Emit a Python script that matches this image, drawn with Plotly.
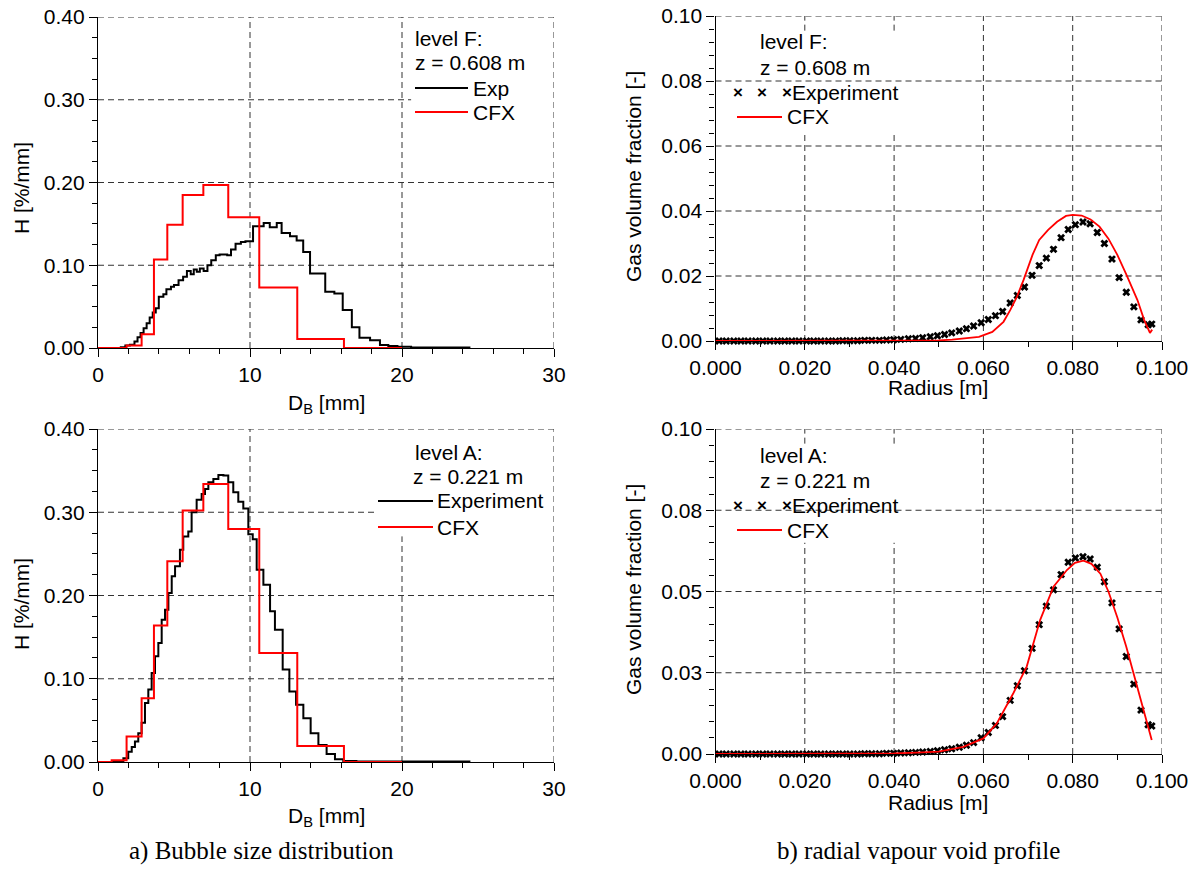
import plotly.graph_objects as go

# ---------------- data ----------------
# Bubble size distribution, level F (z = 0.608 m)
exp_f_edges = [0, 1.5, 1.8, 2.1, 2.4, 2.6, 2.8, 3.0, 3.2, 3.4,
               3.6, 3.8, 4.0, 4.3, 4.5, 4.8, 5.0, 5.3, 5.6, 5.85,
               6.1, 6.3, 6.5, 6.7, 6.95, 7.2, 7.45, 7.75, 8.0, 8.5,
               8.75, 9.05, 9.4, 9.7, 10.2, 10.9, 11.3, 11.76, 12.08, 12.63,
               13.07, 13.5, 13.95, 14.95, 15.55, 16.1, 16.7, 17.2, 17.9, 18.55,
               19.1, 19.7, 20.6, 24.5]
exp_f_h = [0, 0.001, 0.003, 0.004, 0.008, 0.013, 0.018, 0.024, 0.030, 0.037,
           0.043, 0.048, 0.062, 0.065, 0.071, 0.074, 0.076, 0.082, 0.086, 0.093,
           0.089, 0.095, 0.092, 0.096, 0.093, 0.100, 0.106, 0.112, 0.113, 0.112,
           0.119, 0.126, 0.128, 0.129, 0.147, 0.151, 0.146, 0.151, 0.139, 0.135,
           0.130, 0.116, 0.090, 0.068, 0.066, 0.046, 0.025, 0.0125, 0.0095, 0.0036,
           0.0024, 0.0016, 0.0005]
cfx_f_edges = [0, 1.88, 2.87, 3.68, 4.56, 5.57, 6.93, 8.57, 10.61, 13.11, 16.18, 20.0]
cfx_f_h = [0, 0.003, 0.0165, 0.107, 0.149, 0.185, 0.197, 0.158, 0.073, 0.011, 0.0]

# Bubble size distribution, level A (z = 0.221 m)
exp_a_edges = [0, 1.67, 1.99, 2.22, 2.43, 2.65, 2.87, 3.09, 3.31, 3.53,
               3.75, 3.97, 4.19, 4.41, 4.63, 4.85, 5.07, 5.39, 5.61, 5.94,
               6.16, 6.49, 6.82, 7.04, 7.26, 7.59, 7.92, 8.25, 8.57, 8.90,
               9.23, 9.56, 9.89, 10.18, 10.44, 10.88, 11.32, 11.64, 12.15, 12.59,
               13.03, 13.51, 13.99, 14.5, 15.04, 15.59, 16.14, 17.0, 24.5]
exp_a_h = [0, 0.0044, 0.0124, 0.018, 0.0245, 0.0345, 0.047, 0.071, 0.087, 0.107,
           0.127, 0.143, 0.171, 0.183, 0.203, 0.223, 0.235, 0.255, 0.271, 0.277,
           0.300, 0.315, 0.322, 0.328, 0.336, 0.340, 0.3446, 0.344, 0.336, 0.324,
           0.3125, 0.3045, 0.2735, 0.2675, 0.231, 0.213, 0.181, 0.159, 0.111, 0.0847,
           0.0687, 0.0526, 0.0345, 0.0205, 0.0096, 0.0032, 0.0012, 0.0005]
cfx_a_edges = [0, 0.9, 1.88, 2.87, 3.68, 4.56, 5.57, 6.93, 8.57, 10.61, 13.11, 16.18, 20.0]
cfx_a_h = [0, 0.002, 0.0305, 0.0767, 0.164, 0.241, 0.302, 0.334, 0.280, 0.131, 0.0193, 0.0]

# Radial gas volume fraction, measured radii [m]
r_exp = [0.0008, 0.0024, 0.0041, 0.0057, 0.0073, 0.0090, 0.0106, 0.0122, 0.0139, 0.0155,
         0.0171, 0.0187, 0.0204, 0.0220, 0.0236, 0.0253, 0.0269, 0.0285, 0.0301, 0.0318,
         0.0334, 0.0350, 0.0367, 0.0383, 0.0399, 0.0415, 0.0432, 0.0448, 0.0464, 0.0481,
         0.0497, 0.0513, 0.0529, 0.0546, 0.0562, 0.0578, 0.0595, 0.0611, 0.0627, 0.0643,
         0.0660, 0.0676, 0.0692, 0.0709, 0.0725, 0.0741, 0.0757, 0.0774, 0.0790, 0.0806,
         0.0823, 0.0839, 0.0855, 0.0871, 0.0888, 0.0904, 0.0920, 0.0937, 0.0953, 0.0969,
         0.0977]
void_exp_f = [0.0000, 0.0000, 0.0000, 0.0000, 0.0000, 0.0000, 0.0000, 0.0000, 0.0000, 0.0000,
              0.0000, 0.0000, 0.0000, 0.0000, 0.0000, 0.0000, 0.0000, 0.0001, 0.0001, 0.0001,
              0.0002, 0.0002, 0.0002, 0.0003, 0.0004, 0.0005, 0.0007, 0.0008, 0.0010, 0.0013,
              0.0016, 0.0020, 0.0025, 0.0031, 0.0038, 0.0046, 0.0056, 0.0066, 0.0078, 0.0091,
              0.0117, 0.0140, 0.0166, 0.0202, 0.0232, 0.0255, 0.0282, 0.0318, 0.0343, 0.0358,
              0.0366, 0.0361, 0.0334, 0.0300, 0.0252, 0.0195, 0.0150, 0.0105, 0.0065, 0.0050,
              0.0052]
void_exp_a = [0.0000, 0.0000, 0.0000, 0.0000, 0.0000, 0.0000, 0.0000, 0.0000, 0.0000, 0.0000,
              0.0000, 0.0000, 0.0000, 0.0000, 0.0000, 0.0000, 0.0000, 0.0000, 0.0000, 0.0000,
              0.0001, 0.0001, 0.0001, 0.0002, 0.0002, 0.0003, 0.0004, 0.0005, 0.0006, 0.0008,
              0.0010, 0.0013, 0.0016, 0.0021, 0.0027, 0.0035, 0.0050, 0.0066, 0.0088, 0.0115,
              0.0165, 0.0210, 0.0256, 0.0325, 0.0398, 0.0455, 0.0505, 0.0552, 0.0590, 0.0603,
              0.0607, 0.0600, 0.0575, 0.0530, 0.0465, 0.0385, 0.0300, 0.0215, 0.0135, 0.0090,
              0.0086]

# CFX radial profiles
r_cfx_f = [0.0, 0.010, 0.020, 0.030, 0.040, 0.045, 0.050, 0.053, 0.056, 0.059,
           0.062, 0.0645, 0.066, 0.0675, 0.069, 0.070, 0.071, 0.0725, 0.0745, 0.0765,
           0.0785, 0.080, 0.082, 0.084, 0.086, 0.088, 0.090, 0.092, 0.0945, 0.096,
           0.0973, 0.0978]
void_cfx_f = [0.0, 0.0, 0.0, 0.0, 0.0001, 0.0001, 0.0002, 0.0004, 0.0008, 0.0013,
              0.0028, 0.0059, 0.0095, 0.0136, 0.0188, 0.0229, 0.0265, 0.0311, 0.0342, 0.0367,
              0.0385, 0.0388, 0.0386, 0.0374, 0.0352, 0.0315, 0.0265, 0.0205, 0.0126, 0.0065,
              0.0025, 0.0035]
r_cfx_a = [0.0, 0.020, 0.040, 0.045, 0.050, 0.0555, 0.060, 0.063, 0.0667, 0.0697,
           0.0727, 0.0757, 0.0787, 0.0805, 0.0824, 0.0842, 0.0862, 0.088, 0.090, 0.092,
           0.094, 0.096, 0.0977]
void_cfx_a = [0.0, 0.0, 0.0002, 0.0004, 0.0007, 0.0022, 0.0048, 0.0094, 0.0187, 0.0269,
              0.0412, 0.0515, 0.0566, 0.0588, 0.0595, 0.0585, 0.0555, 0.0500, 0.0420, 0.0330,
              0.0230, 0.0135, 0.0043]

# ---------------- layout helpers ----------------
W, H = 1199, 876
FONT = "Liberation Sans, Arial, sans-serif"
SERIF = "Liberation Serif, Times New Roman, serif"
FS = 21


def px(x):
    return x / W


def py(y):
    return 1 - y / H


def step_xy(edges, vals):
    return list(edges), list(vals) + [vals[-1]]


fig = go.Figure()

# histograms (step lines)
for axes, edges, vals, color in [
    ("x", exp_f_edges, exp_f_h, "black"),
    ("x", cfx_f_edges, cfx_f_h, "red"),
    ("x2", exp_a_edges, exp_a_h, "black"),
    ("x2", cfx_a_edges, cfx_a_h, "red"),
]:
    xs, ys = step_xy(edges, vals)
    fig.add_trace(go.Scatter(
        x=xs, y=ys, mode="lines", line=dict(color=color, width=2, shape="hv"),
        xaxis=axes, yaxis=axes.replace("x", "y"), cliponaxis=False, showlegend=False))

# radial profiles
for axes, rx, vy in [("x3", r_exp, void_exp_f), ("x4", r_exp, void_exp_a)]:
    fig.add_trace(go.Scatter(
        x=rx, y=vy, mode="markers",
        marker=dict(symbol="x", size=7, color="black"),
        xaxis=axes, yaxis=axes.replace("x", "y"), cliponaxis=False, showlegend=False))
for axes, rx, vy in [("x3", r_cfx_f, void_cfx_f), ("x4", r_cfx_a, void_cfx_a)]:
    fig.add_trace(go.Scatter(
        x=rx, y=vy, mode="lines", line=dict(color="red", width=1.8),
        xaxis=axes, yaxis=axes.replace("x", "y"), cliponaxis=False, showlegend=False))


def base_axis(**kw):
    d = dict(showline=True, linecolor="black", linewidth=1.3,
             ticks="outside", ticklen=8, tickwidth=1.2, tickcolor="black",
             showgrid=False, zeroline=False, layer="below traces",
             automargin=False,
             tickfont=dict(family=FONT, size=FS, color="black"))
    d.update(kw)
    return d


def minor(dt):
    return dict(ticks="outside", ticklen=5, tickwidth=1, tickcolor="black",
                dtick=dt, tick0=0, showgrid=False)


x_left = [px(98), px(554)]
x_right = [px(715.5), px(1162)]

fig.update_layout(
    width=W, height=H, autosize=False,
    margin=dict(l=0, r=0, t=0, b=0, pad=0, autoexpand=False),
    paper_bgcolor="white", plot_bgcolor="white",
    xaxis=base_axis(domain=x_left, anchor="y", range=[0, 30], tick0=0, dtick=10, minor=minor(2)),
    yaxis=base_axis(domain=[py(348), py(17)], anchor="x", range=[0, 0.4], tick0=0, dtick=0.1,
                    tickformat=".2f", minor=minor(0.025)),
    xaxis2=base_axis(domain=x_left, anchor="y2", range=[0, 30], tick0=0, dtick=10, minor=minor(2)),
    yaxis2=base_axis(domain=[py(762), py(429)], anchor="x2", range=[0, 0.4], tick0=0, dtick=0.1,
                     tickformat=".2f", minor=minor(0.025)),
    xaxis3=base_axis(domain=x_right, anchor="y3", range=[0, 0.1], tick0=0, dtick=0.02,
                     tickformat=".3f", minor=minor(0.01)),
    yaxis3=base_axis(domain=[py(341), py(16)], anchor="x3", range=[0, 0.1], tick0=0, dtick=0.02,
                     tickformat=".2f", minor=minor(0.004)),
    xaxis4=base_axis(domain=x_right, anchor="y4", range=[0, 0.1], tick0=0, dtick=0.02,
                     tickformat=".3f", minor=minor(0.01)),
    yaxis4=base_axis(domain=[py(754), py(429)], anchor="x4", range=[0, 0.1], tick0=0, dtick=0.025,
                     tickformat=".2f", labelalias={"0.07": "0.08", "0.02": "0.03"},
                     minor=minor(0.005)),
)

# ---------------- dashed grid ----------------
GRID = dict(color="#333333", width=1, dash="6px,4px")
shapes = []


def vline(ax, xv, y0, y1):
    shapes.append(dict(type="line", xref=ax, yref=ax.replace("x", "y"),
                       x0=xv, x1=xv, y0=y0, y1=y1, line=GRID, layer="below"))


def hline(ax, yv, x0, x1):
    shapes.append(dict(type="line", xref=ax, yref=ax.replace("x", "y"),
                       x0=x0, x1=x1, y0=yv, y1=yv, line=GRID, layer="below"))


# bubble size, level F
for v in [10, 20, 30]:
    vline("x", v, 0, 0.4)
for v in [0.1, 0.2, 0.4]:
    hline("x", v, 0, 30)
hline("x", 0.3, 0, 20.6)

# bubble size, level A
for v in [10, 30]:
    vline("x2", v, 0, 0.4)
vline("x2", 20, 0, 0.271)
for v in [0.1, 0.2, 0.4]:
    hline("x2", v, 0, 30)
hline("x2", 0.3, 0, 18.4)

# void profile, level F
for v in [0.06, 0.08, 0.1]:
    vline("x3", v, 0, 0.1)
for v in [0.02, 0.04]:
    vline("x3", v, 0, 0.064)
    vline("x3", v, 0.0955, 0.1)
for v in [0.02, 0.04, 0.06, 0.08, 0.1]:
    hline("x3", v, 0, 0.1)

# void profile, level A
for v in [0.06, 0.08, 0.1]:
    vline("x4", v, 0, 0.1)
for v in [0.02, 0.04]:
    vline("x4", v, 0, 0.065)
    vline("x4", v, 0.0955, 0.1)
for v in [0.025, 0.05, 0.075, 0.1]:
    hline("x4", v, 0, 0.1)


# ---------------- legends (keys and text) ----------------
def key_line(x0, x1, y, color):
    shapes.append(dict(type="line", xref="paper", yref="paper",
                       x0=px(x0), x1=px(x1), y0=py(y), y1=py(y),
                       line=dict(color=color, width=2)))


annotations = []


def text(x, y, s, size=FS, anchor="left", family=FONT, angle=0):
    annotations.append(dict(xref="paper", yref="paper", x=px(x), y=py(y), text=s,
                            showarrow=False, xanchor=anchor, yanchor="middle",
                            textangle=angle,
                            font=dict(family=family, size=size, color="black")))


# level F histogram legend
text(413, 39, "level F:")
text(413, 63, "z = 0.608 m")
key_line(415, 468, 88, "black")
text(471, 88, "Exp")
key_line(415, 468, 112, "red")
text(471, 112, "CFX")

# level A histogram legend
text(413, 453, "level A:")
text(411, 477, "z = 0.221 m")
key_line(378, 433, 501, "black")
text(435, 501, "Experiment")
key_line(378, 433, 527, "red")
text(435, 527, "CFX")

# void profile legends
for y0, lvl, z in [(42, "level F:", "z = 0.608 m"), (455, "level A:", "z = 0.221 m")]:
    text(758, y0, lvl)
    text(758, y0 + 25, z)
    for xm in [738, 762, 787]:
        text(xm, y0 + 50, "<b>×</b>", size=17, anchor="center")
    text(790, y0 + 50, "Experiment")
    key_line(737, 782, y0 + 75, "red")
    text(785, y0 + 75, "CFX")

# axis titles
text(21, 188, "H [%/mm]", anchor="center", angle=-90)
text(21, 604, "H [%/mm]", anchor="center", angle=-90)
text(326, 404, "D<sub>B</sub> [mm]", anchor="center")
text(326, 817, "D<sub>B</sub> [mm]", anchor="center")
text(633, 177, "Gas volume fraction [-]", anchor="center", angle=-90)
text(633, 590, "Gas volume fraction [-]", anchor="center", angle=-90)
text(938, 387, "Radius [m]", anchor="center")
text(938, 802, "Radius [m]", anchor="center")

# captions
text(261, 851, "a) Bubble size distribution", size=25, anchor="center", family=SERIF)
text(919, 851, "b) radial vapour void profile", size=25, anchor="center", family=SERIF)

fig.update_layout(shapes=shapes, annotations=annotations)

fig.write_html("out.html")
